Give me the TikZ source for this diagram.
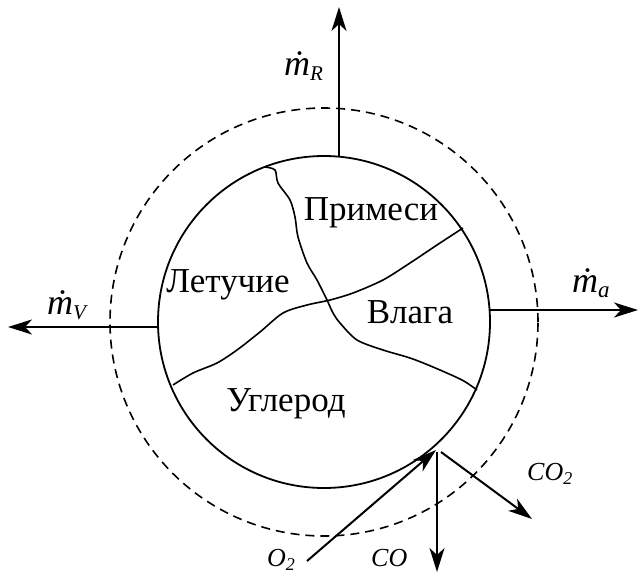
\documentclass[tikz,border=0pt]{standalone}
\usepackage{fontspec}
\setmainfont{Liberation Serif}
\usetikzlibrary{arrows.meta}
\begin{document}
\begin{tikzpicture}[x=1pt,y=-1pt,
  flow/.style={line width=2.4pt,-{Stealth[length=24pt,width=15pt,inset=7pt]}},
  crack/.style={line width=1.6pt,line join=round},
  part/.style={font=\fontsize{35}{38}\selectfont,inner sep=0pt},
  flux/.style={font=\fontsize{36}{38}\selectfont\itshape,inner sep=0pt,anchor=base west},
  gas/.style={font=\fontsize{26}{28}\selectfont\itshape,inner sep=0pt,anchor=base west}]
\useasboundingbox (0,0) rectangle (639,575);
% particle and boundary layer
\node[circle,draw,line width=1.8pt,minimum size=332pt,inner sep=0pt] (p) at (324,322) {};
\draw[line width=1.6pt,dash pattern=on 9pt off 6pt] (324,322) circle[radius=214pt];
% cracks
\draw[crack] plot[smooth,tension=0.5] coordinates {(265,167)(275,170)(278,183)(290,200)(295,217)(298,237)(307,263)(317,280)(327,300)(333,313)(340,323)(357,340)(383,350)(410,358)(433,367)(462,380)(477,390)};
\draw[crack] plot[smooth,tension=0.5] coordinates {(173,385)(193,373)(217,363)(237,350)(260,332)(283,313)(307,305)(330,300)(353,293)(383,280)(410,263)(437,245)(463,228)};
% labels of components
\node[part] (pr) at (371,213) {Примеси};
\node[part] (le) at (228,285) {Летучие};
\node[part] (vl) at (410,312) {Влага};
\node[part] (ug) at (286,404) {Углерод};
% flow coordinates
\coordinate (rS) at (339,157);
\coordinate (rE) at (339,7);
\coordinate (vS) at (158,327);
\coordinate (vE) at (8,327);
\coordinate (aS) at (490,310);
\coordinate (aE) at (638,310);
\coordinate (oS) at (307,561);
\coordinate (oE) at (436,450);
\coordinate (cS) at (437,452);
\coordinate (cE) at (437,572);
\coordinate (c2S) at (441,452);
\coordinate (c2E) at (532,519);
\draw[flow] (rS) -- (rE);
\draw[flow] (vS) -- (vE);
\draw[flow] (aS) -- (aE);
\draw[flow,line width=2pt] (oS) -- (oE);
\draw[flow,line width=2pt] (cS) -- (cE);
\draw[flow,line width=2pt] (c2S) -- (c2E);
% flux labels
\node[flux] (mR) at (284,76) {\.{m}\raisebox{-5pt}{\fontsize{21}{22}\selectfont R}};
\node[flux] (mV) at (47,314) {\.{m}\raisebox{-5pt}{\fontsize{21}{22}\selectfont V}};
\node[flux] (ma) at (572,292) {\.{m}\raisebox{-5pt}{\fontsize{23}{22}\selectfont a}};
\node[gas] (o2) at (267,566) {O\raisebox{-4pt}{\fontsize{18}{18}\selectfont 2}};
\node[gas] (co) at (371,566) {CO};
\node[gas] (co2) at (527,480) {CO\raisebox{-4pt}{\fontsize{18}{18}\selectfont 2}};
\end{tikzpicture}
\end{document}
